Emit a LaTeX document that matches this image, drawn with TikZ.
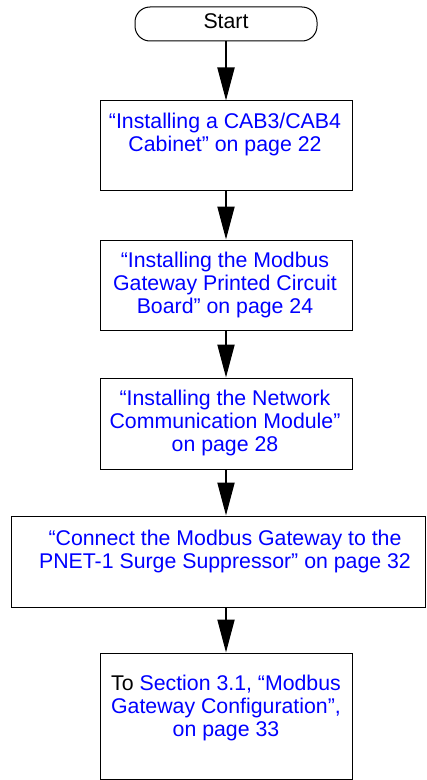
\documentclass[tikz,border=0pt]{standalone}
\usepackage{fontspec}
\setmainfont{Liberation Sans}
\usetikzlibrary{arrows.meta}
\begin{document}
\begin{tikzpicture}[x=1bp,y=-1bp,
  box/.style={draw, line width=1bp, inner sep=0pt},
  lbl/.style={text=blue, font=\fontsize{21.3bp}{23.3bp}\selectfont, align=center, anchor=north, inner sep=0pt},
  flow/.style={line width=2bp, -{Triangle[width=17bp,length=33bp]}}]
\useasboundingbox (0,0) rectangle (426,780);
\node[box, rounded corners=15bp, minimum width=182bp, minimum height=34bp,
      font=\fontsize{21.3bp}{23.3bp}\selectfont, text height=15.5bp, text depth=7bp] (start) at (226,24) {Start};
\node[box, minimum width=251bp, minimum height=89bp] (b1) at (226.5,145.5) {};
\node[box, minimum width=251bp, minimum height=90bp] (b2) at (226.5,285) {};
\node[box, minimum width=251bp, minimum height=91bp] (b3) at (226.5,423.5) {};
\node[box, minimum width=413bp, minimum height=91bp] (b4) at (218.5,561.5) {};
\node[box, minimum width=251bp, minimum height=126bp] (b5) at (226.5,716) {};
\node[lbl] (t1) at (225,112.5) {“Installing a CAB3/CAB4\\Cabinet” on page 22};
\node[lbl] (t2) at (225,251.5) {“Installing the Modbus\\Gateway Printed Circuit\\Board” on page 24};
\node[lbl] (t3) at (225,389.5) {“Installing the Network\\Communication Module”\\on page 28};
\node[lbl] (t4) at (225,529.5) {“Connect the Modbus Gateway to the\\PNET-1 Surge Suppressor” on page 32};
\node[lbl] (t5) at (226,674.5) {\textcolor{black}{To} Section 3.1, “Modbus\\Gateway Configuration”,\\on page 33};
\draw[flow] (start.south) -- (start.south |- b1.north);
\draw[flow] (b1.south -| start.south) -- (start.south |- b2.north);
\draw[flow] (b2.south -| start.south) -- (start.south |- b3.north);
\draw[flow] (b3.south -| start.south) -- (start.south |- b4.north);
\draw[flow] (b4.south -| start.south) -- (start.south |- b5.north);
\end{tikzpicture}
\end{document}
